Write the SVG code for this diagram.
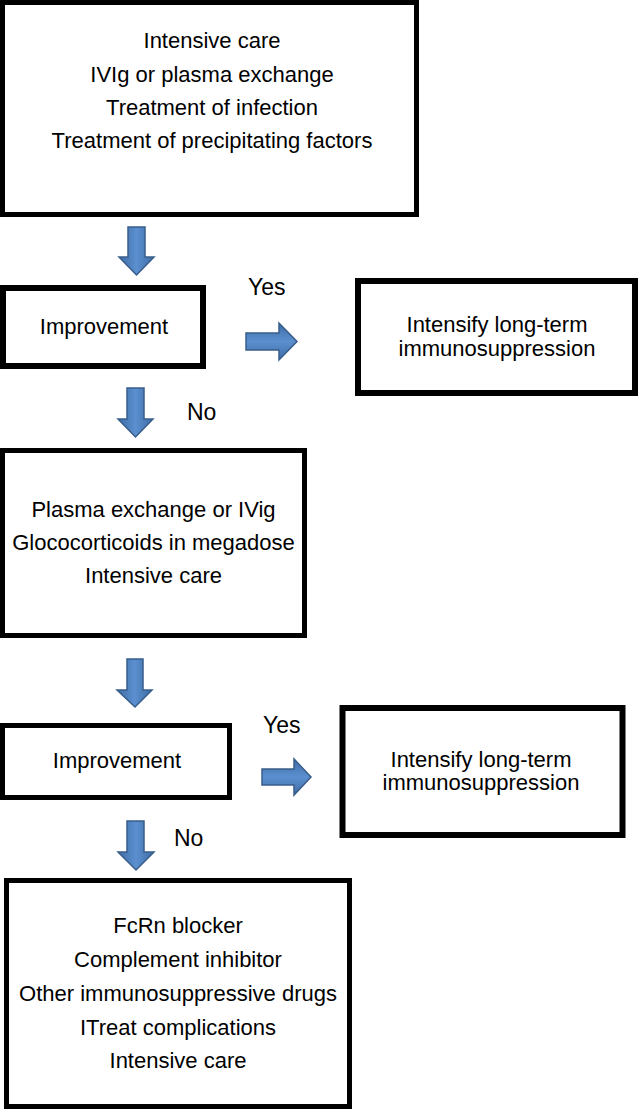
<svg xmlns="http://www.w3.org/2000/svg" width="643" height="1110" viewBox="0 0 643 1110">
  <defs>
    <linearGradient id="gDown" x1="0" y1="0" x2="1" y2="0">
      <stop offset="0" stop-color="#3F6DA6"/>
      <stop offset="0.5" stop-color="#5B8FCF"/>
      <stop offset="1" stop-color="#3F6DA6"/>
    </linearGradient>
    <linearGradient id="gRight" x1="0" y1="0" x2="0" y2="1">
      <stop offset="0" stop-color="#3F6DA6"/>
      <stop offset="0.5" stop-color="#5B8FCF"/>
      <stop offset="1" stop-color="#3F6DA6"/>
    </linearGradient>
  </defs>
  <style>
    .box { fill: #ffffff; stroke: #000000; }
    .t { font-family: "Liberation Sans", Arial, sans-serif; font-size: 22px; fill: #000000; text-anchor: middle; }
    .lbl { font-family: "Liberation Sans", Arial, sans-serif; font-size: 23px; fill: #000000; }
    .arrow { stroke: #385D8A; stroke-width: 1.5; stroke-linejoin: miter; }
    .down { fill: url(#gDown); }
    .right { fill: url(#gRight); }
  </style>
  <rect width="643" height="1110" fill="#ffffff"/>

  <g id="connectors">
    <path class="arrow down" d="M128,227 H145 V257 H154 L136.5,275 L119,257 H128 Z"/>
    <path class="arrow down" d="M127,388 H144 V419 H153 L135.5,437 L118,419 H127 Z"/>
    <path class="arrow down" d="M127,659 H143 V690 H152 L135,707 L117,690 H127 Z"/>
    <path class="arrow down" d="M127,821 H144 V852 H154 L136,870 L118,852 H127 Z"/>
    <path class="arrow right" d="M246,333 H279 V323 L297,341.5 L279,360 V350 H246 Z"/>
    <path class="arrow right" d="M262,769 H294 V759 L311,777 L294,795 V785 H262 Z"/>
    <text class="lbl" x="248" y="295">Yes</text>
    <text class="lbl" x="187" y="420">No</text>
    <text class="lbl" x="263" y="733">Yes</text>
    <text class="lbl" x="174" y="846">No</text>
  </g>

  <g id="node-initial">
    <rect class="box" x="2.5" y="2.5" width="414" height="212" stroke-width="5"/>
    <text class="t" x="212" y="48">Intensive care</text>
    <text class="t" x="212" y="82">IVIg or plasma exchange</text>
    <text class="t" x="212" y="115">Treatment of infection</text>
    <text class="t" x="212" y="148">Treatment of precipitating factors</text>
  </g>

  <g id="node-improvement-1">
    <rect class="box" x="3" y="288" width="200" height="78" stroke-width="6"/>
    <text class="t" x="104" y="334">Improvement</text>
  </g>

  <g id="node-intensify-1">
    <rect class="box" x="358" y="281" width="277" height="112" stroke-width="6"/>
    <text class="t" x="497" y="332">Intensify long-term</text>
    <text class="t" x="497" y="356">immunosuppression</text>
  </g>

  <g id="node-second-line">
    <rect class="box" x="2.5" y="450.5" width="302" height="185" stroke-width="5"/>
    <text class="t" x="153.5" y="517">Plasma exchange or IVig</text>
    <text class="t" x="153.5" y="550">Glococorticoids in megadose</text>
    <text class="t" x="153.5" y="583">Intensive care</text>
  </g>

  <g id="node-improvement-2">
    <rect class="box" x="2.5" y="725.5" width="227" height="72" stroke-width="5"/>
    <text class="t" x="117" y="768">Improvement</text>
  </g>

  <g id="node-intensify-2">
    <rect class="box" x="342.5" y="708" width="280" height="127" stroke-width="6"/>
    <text class="t" x="481" y="767">Intensify long-term</text>
    <text class="t" x="481" y="790">immunosuppression</text>
  </g>

  <g id="node-third-line">
    <rect class="box" x="6.5" y="880.5" width="343" height="226" stroke-width="5"/>
    <text class="t" x="178" y="933">FcRn blocker</text>
    <text class="t" x="178" y="967">Complement inhibitor</text>
    <text class="t" x="178" y="1001">Other immunosuppressive drugs</text>
    <text class="t" x="178" y="1035">ITreat complications</text>
    <text class="t" x="178" y="1068">Intensive care</text>
  </g>
</svg>
